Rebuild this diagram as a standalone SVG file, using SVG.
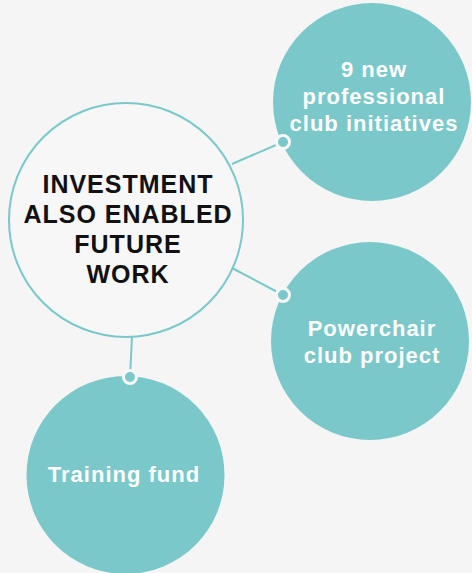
<svg xmlns="http://www.w3.org/2000/svg" width="472" height="573" viewBox="0 0 472 573">
<style>
.bg{fill:#f5f5f5}
.hub{fill:#f7f7f7;stroke:#7ac8ca;stroke-width:2}
.leaf{fill:#7ac8ca}
.link{stroke:#7ac8ca;stroke-width:2;fill:none}
.dot{fill:#7ac8ca;stroke:#f7f7f7;stroke-width:3}
.ht{font-family:"Liberation Sans",Arial,sans-serif;font-weight:bold;font-size:25px;letter-spacing:1px;fill:#111;text-anchor:middle}
.lt{font-family:"Liberation Sans",Arial,sans-serif;font-weight:bold;font-size:22px;letter-spacing:1px;fill:#fff;text-anchor:middle}
</style>
<rect class="bg" x="0" y="0" width="472" height="573"/>
<g id="hub">
<circle class="hub" cx="126" cy="220" r="117"/>
<text class="ht" x="128" y="193">INVESTMENT</text>
<text class="ht" x="128" y="223">ALSO ENABLED</text>
<text class="ht" x="128" y="253">FUTURE</text>
<text class="ht" x="128" y="283">WORK</text>
</g>
<g id="node-initiatives">
<circle class="leaf" cx="372" cy="102" r="99"/>
<text class="lt" x="374" y="77">9 new</text>
<text class="lt" x="374" y="104">professional</text>
<text class="lt" x="374" y="131">club initiatives</text>
</g>
<g id="node-powerchair">
<circle class="leaf" cx="370" cy="341" r="99"/>
<text class="lt" x="372" y="336">Powerchair</text>
<text class="lt" x="372" y="363">club project</text>
</g>
<g id="node-training">
<circle class="leaf" cx="125.5" cy="475" r="99"/>
<text class="lt" x="124" y="482">Training fund</text>
</g>
<g id="connectors">
<line class="link" x1="232" y1="164" x2="283" y2="142"/>
<circle class="dot" cx="283" cy="142" r="6.5"/>
<line class="link" x1="232" y1="268" x2="283" y2="295"/>
<circle class="dot" cx="283" cy="295" r="6.5"/>
<line class="link" x1="132" y1="337" x2="130" y2="377"/>
<circle class="dot" cx="130" cy="377" r="6.5"/>
</g>
</svg>
